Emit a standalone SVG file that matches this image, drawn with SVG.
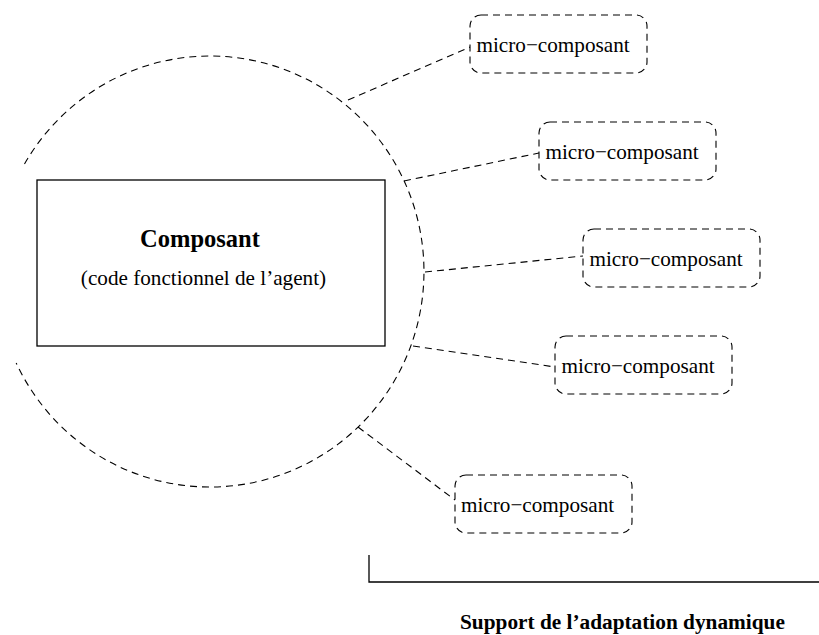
<svg xmlns="http://www.w3.org/2000/svg" width="819" height="635" viewBox="0 0 819 635">
  <style>
    .dash { fill: none; stroke: #000; stroke-width: 1.1; stroke-dasharray: 7 5; }
    .solid { fill: none; stroke: #000; stroke-width: 1.3; }
    .txt { font-family: "Liberation Serif", "Times New Roman", serif; font-size: 21.2px; fill: #000; }
    .bold { font-family: "Liberation Serif", "Times New Roman", serif; font-weight: bold; fill: #000; }
  </style>
  <rect width="819" height="635" fill="#fff"/>

  <!-- dynamic adaptation boundary (open dashed arc) -->
  <g id="boundary">
    <path class="dash" d="M 24.5 164 A 214 215.5 0 1 1 16.2 363"/>
  </g>

  <!-- connectors from the boundary to each micro-component -->
  <g id="connectors">
    <line class="dash" x1="348" y1="100" x2="470" y2="47"/>
    <line class="dash" x1="404" y1="181" x2="539" y2="153"/>
    <line class="dash" x1="425" y1="272" x2="583" y2="256"/>
    <line class="dash" x1="413" y1="346" x2="555" y2="367"/>
    <line class="dash" x1="358" y1="427" x2="455" y2="500"/>
  </g>

  <!-- functional component -->
  <g id="composant">
    <rect class="solid" x="37" y="180" width="348" height="166"/>
    <text class="bold" x="200" y="247" font-size="24.5" text-anchor="middle">Composant</text>
    <text class="txt" x="203.5" y="285" text-anchor="middle">(code fonctionnel de l’agent)</text>
  </g>

  <!-- micro-components -->
  <g id="micro1">
    <rect class="dash" x="470" y="15" width="177" height="58" rx="11" ry="11"/>
    <text class="txt" x="476.5" y="52">micro−composant</text>
  </g>
  <g id="micro2">
    <rect class="dash" x="539" y="122" width="177" height="58" rx="11" ry="11"/>
    <text class="txt" x="545.5" y="159">micro−composant</text>
  </g>
  <g id="micro3">
    <rect class="dash" x="583" y="229" width="177" height="58" rx="11" ry="11"/>
    <text class="txt" x="589.5" y="266">micro−composant</text>
  </g>
  <g id="micro4">
    <rect class="dash" x="555" y="336" width="177" height="58" rx="11" ry="11"/>
    <text class="txt" x="561.5" y="373">micro−composant</text>
  </g>
  <g id="micro5">
    <rect class="dash" x="455" y="475" width="177" height="58" rx="11" ry="11"/>
    <text class="txt" x="461" y="512">micro−composant</text>
  </g>

  <!-- support bracket and caption -->
  <g id="support">
    <path class="solid" d="M 369 555 V 582 H 819"/>
    <text class="bold" x="460" y="629" font-size="21.3">Support de l’adaptation dynamique</text>
  </g>
</svg>
